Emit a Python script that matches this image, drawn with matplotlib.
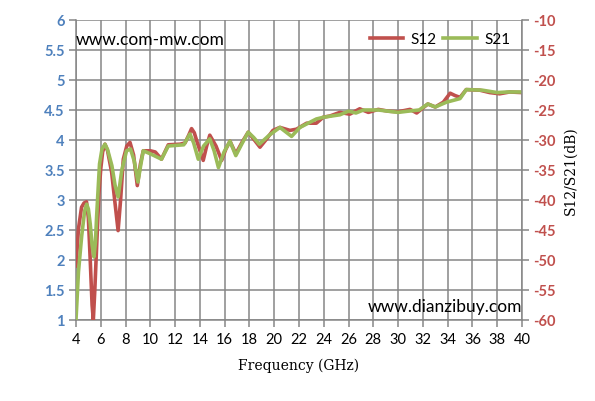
import matplotlib
matplotlib.use("Agg")
from matplotlib import pyplot as plt

# frequency points (GHz) and insertion values (dB)
s12_freq = [4.0, 4.2, 4.45, 4.65, 4.85, 5.0, 5.15, 5.3, 5.4, 5.52, 5.67, 5.85, 6.0, 6.15,
            6.34, 6.55, 6.88, 7.15, 7.4, 7.6, 7.82, 8.1, 8.36, 8.65, 8.95, 9.2, 9.43,
            10.0, 10.4, 10.9, 11.45, 12.4, 12.8, 13.1, 13.33, 13.55, 13.8, 14.27, 14.55,
            14.8, 15.3, 15.76, 16.1, 16.43, 16.9, 17.4, 17.9, 18.4, 18.85, 19.4, 19.9,
            20.46, 21.27, 21.8, 22.62, 23.4, 23.96, 24.5, 25.3, 26.1, 26.9, 27.6, 28.4,
            29.2, 30.0, 30.96, 31.5, 32.4, 33.0, 33.65, 34.2, 34.6, 35.0, 35.5, 36.6,
            37.4, 38.2, 39.0, 40.0]
s12_db = [-51.0, -44.8, -41.2, -40.5, -40.3, -43.0, -50.0, -57.5, -60.0, -55.0, -47.6,
          -39.0, -34.8, -32.0, -30.7, -31.8, -35.4, -40.5, -45.1, -40.0, -33.2, -31.0,
          -30.4, -32.5, -37.6, -34.0, -31.8, -31.8, -32.0, -33.2, -30.8, -30.7, -30.5,
          -29.2, -28.1, -28.8, -30.5, -33.4, -31.0, -29.2, -31.0, -33.4, -31.5, -30.2,
          -32.3, -30.4, -28.7, -30.0, -31.2, -29.8, -28.4, -27.9, -28.4, -28.2, -27.2,
          -27.2, -26.2, -26.0, -25.4, -25.7, -24.8, -25.4, -24.9, -25.2, -25.3, -24.9,
          -25.5, -24.0, -24.5, -23.7, -22.2, -22.6, -22.9, -21.6, -21.7, -22.1, -22.3,
          -22.0, -22.1]

s21_freq = [4.0, 4.2, 4.46, 4.7, 4.86, 5.0, 5.15, 5.3, 5.45, 5.57, 5.67, 5.9, 6.1, 6.34,
            6.55, 6.9, 7.15, 7.4, 7.7, 8.08, 8.4, 8.7, 9.0, 9.2, 9.43, 10.0, 10.9, 11.45,
            12.7, 13.2, 13.5, 13.87, 14.3, 14.8, 15.15, 15.5, 15.95, 16.43, 16.9, 17.4,
            17.9, 18.35, 18.8, 19.6, 20.46, 21.4, 22.08, 23.4, 24.0, 25.3, 26.0, 26.6,
            27.2, 28.4, 30.0, 30.8, 31.7, 32.4, 33.0, 33.9, 35.0, 35.5, 36.8, 38.0, 38.8,
            40.0]
s21_db = [-60.0, -52.0, -46.0, -41.8, -40.7, -41.5, -44.0, -47.5, -49.5, -47.0, -42.6,
          -34.0, -31.5, -30.7, -31.6, -34.3, -37.5, -39.5, -35.0, -31.8, -31.5, -33.5,
          -37.0, -34.5, -31.8, -32.3, -33.2, -31.0, -30.8, -29.0, -30.5, -33.2, -31.0,
          -29.8, -31.8, -34.6, -32.0, -30.2, -32.6, -30.6, -28.7, -29.6, -30.7, -29.2,
          -27.9, -29.4, -27.9, -26.5, -26.2, -25.8, -25.2, -25.5, -25.0, -25.0, -25.4,
          -25.2, -25.0, -24.0, -24.5, -23.7, -23.1, -21.6, -21.7, -22.1, -22.0, -22.0]

freq_ticks = list(range(4, 41, 2))
left_ticks = [1, 1.5, 2, 2.5, 3, 3.5, 4, 4.5, 5, 5.5, 6]
left_labels = ["1", "1.5", "2", "2.5", "3", "3.5", "4", "4.5", "5", "5.5", "6"]
db_ticks = list(range(-60, -9, 5))

red = "#C0504D"
green = "#9BBB59"
blue = "#4F81BD"
gridc = "#868686"

plt.rcParams["font.family"] = ["Lato", "DejaVu Sans"]
plt.rcParams["axes.unicode_minus"] = False

fig = plt.figure(figsize=(5.95, 4.02), dpi=100)
ax = fig.add_axes([0.1277, 0.2015, 0.7496, 0.7463])
ax2 = ax.twinx()

ax.set_xlim(4, 40)
ax.set_ylim(1, 6)
ax.set_xticks(freq_ticks)
ax.set_yticks(left_ticks)
ax.set_yticklabels(left_labels)
ax.grid(True, color=gridc, lw=1.1)
ax.set_axisbelow(True)
for s in ["top", "right"]:
    ax.spines[s].set_visible(False)
for s in ["left", "bottom"]:
    ax.spines[s].set_color(gridc)
    ax.spines[s].set_linewidth(1.1)
ax.tick_params(axis="y", colors=gridc, labelcolor=blue, labelsize=10.5, length=5, width=1.1, pad=3)
ax.tick_params(axis="x", colors=gridc, labelcolor="black", labelsize=10.5, length=5, width=1.1, pad=4)
for t in ax.get_yticklabels():
    t.set_fontweight("bold")

ax2.set_ylim(-60, -10)
ax2.set_yticks(db_ticks)
for s in ["top", "left", "bottom"]:
    ax2.spines[s].set_visible(False)
ax2.spines["right"].set_color(gridc)
ax2.spines["right"].set_linewidth(1.1)
ax2.tick_params(axis="y", colors=gridc, labelcolor=red, labelsize=10.5, length=5, width=1.1, pad=3)
for t in ax2.get_yticklabels():
    t.set_fontweight("bold")

l1, = ax2.plot(s12_freq, s12_db, color=red, lw=2.6, solid_joinstyle="round", label="S12")
l2, = ax2.plot(s21_freq, s21_db, color=green, lw=2.6, solid_joinstyle="round", label="S21")

ax2.legend(handles=[l1, l2], loc="upper right", bbox_to_anchor=(1.005, 1.005), ncol=2,
           frameon=False, fontsize=11, handlelength=2.2, handletextpad=0.5,
           columnspacing=0.4)

ax.set_xlabel("Frequency (GHz)", family="DejaVu Serif", fontsize=10, labelpad=8)
ax2.set_ylabel("S12/S21(dB)", family="DejaVu Serif", fontsize=10, labelpad=6)

ax.text(0.0, 0.935, "www.com-mw.com", transform=ax.transAxes, fontsize=12.5,
        ha="left", va="center", color="black")
ax.text(1.0, 0.045, "www.dianzibuy.com", transform=ax.transAxes, fontsize=12.5,
        ha="right", va="center", color="black")

fig.savefig("out.png", dpi=100)
